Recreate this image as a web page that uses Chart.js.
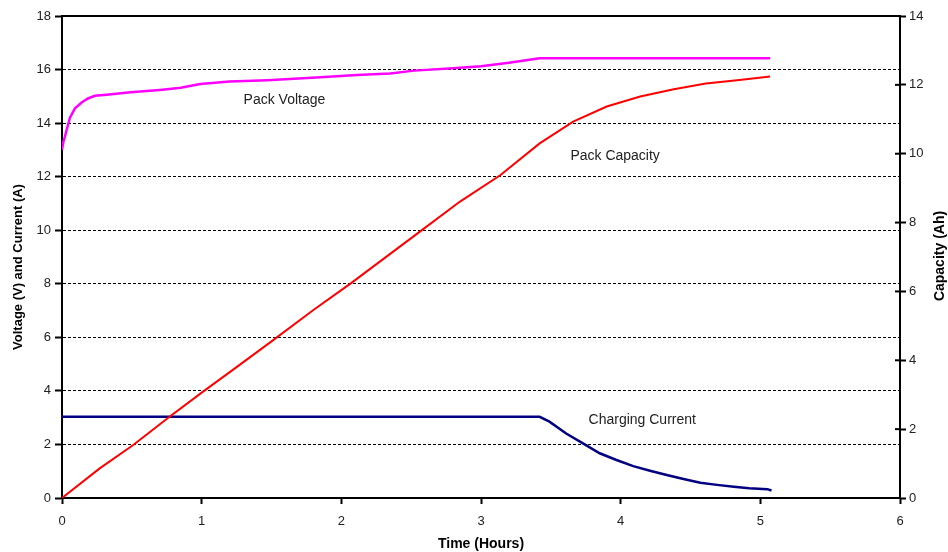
<!DOCTYPE html>
<html>
<head>
<meta charset="utf-8">
<script src="https://cdn.jsdelivr.net/npm/chart.js@4/dist/chart.umd.min.js"></script>
<style>
  html, body { margin: 0; padding: 0; background: #fff; }
  #wrap { width: 948px; height: 552px; }
</style>
</head>
<body>
<div id="wrap"><canvas id="chart" width="948" height="552"></canvas></div>
<script>
// time in hours
var voltTime = [0, 0.01, 0.021, 0.036, 0.057, 0.093, 0.143, 0.186, 0.236, 0.32, 0.49, 0.70, 0.85, 0.99, 1.2, 1.47, 1.82, 2.11, 2.35, 2.52, 2.80, 3.0, 3.2, 3.42, 4.0, 5.07];
var packVoltage = [13.0, 13.3, 13.5, 13.8, 14.2, 14.55, 14.78, 14.92, 15.02, 15.06, 15.15, 15.24, 15.32, 15.46, 15.55, 15.6, 15.7, 15.8, 15.85, 15.96, 16.05, 16.12, 16.25, 16.42, 16.42, 16.42];

var capTime = [0, 0.27, 0.51, 0.77, 1.01, 1.25, 1.5, 1.8, 2.07, 2.56, 2.85, 3.14, 3.42, 3.66, 3.9, 4.14, 4.38, 4.61, 4.85, 5.07];
var packCapacity = [0, 0.86, 1.54, 2.36, 3.09, 3.8, 4.55, 5.46, 6.24, 7.73, 8.61, 9.38, 10.3, 10.93, 11.37, 11.66, 11.87, 12.04, 12.14, 12.24];

var currTime = [0, 3.42, 3.49, 3.61, 3.73, 3.85, 3.97, 4.09, 4.21, 4.33, 4.45, 4.57, 4.69, 4.81, 4.92, 5.05, 5.08];
var chargeCurrent = [3.03, 3.03, 2.85, 2.41, 2.04, 1.67, 1.42, 1.19, 1.02, 0.86, 0.71, 0.57, 0.49, 0.42, 0.36, 0.33, 0.28];

var xTicks = [0, 1, 2, 3, 4, 5, 6];

function pts(xs, ys) {
    return xs.map(function(x, i) { return {x: x, y: ys[i]}; });
}

var tickFont = {family: 'Arial, "Liberation Sans", sans-serif', size: 13};

var extras = {
    id: 'extras',
    afterDraw: function(chart) {
        var ctx = chart.ctx;
        var a = chart.chartArea;
        var xs = chart.scales.x, ys = chart.scales.y, y2 = chart.scales.y2;
        ctx.save();
        // top border
        ctx.strokeStyle = '#000';
        ctx.lineWidth = 2;
        ctx.beginPath();
        ctx.moveTo(a.left - 1, a.top);
        ctx.lineTo(a.right + 1, a.top);
        ctx.stroke();
        // inner half of the right axis ticks
        y2.ticks.forEach(function(t) {
            var py = y2.getPixelForValue(t.value);
            ctx.beginPath();
            ctx.moveTo(a.right - 5, py);
            ctx.lineTo(a.right, py);
            ctx.stroke();
        });
        // series labels
        ctx.fillStyle = '#222';
        ctx.font = '14px Arial, "Liberation Sans", sans-serif';
        ctx.textBaseline = 'middle';
        ctx.textAlign = 'left';
        ctx.fillText('Pack Voltage', xs.getPixelForValue(1.3), ys.getPixelForValue(14.87));
        ctx.fillText('Pack Capacity', xs.getPixelForValue(3.64), ys.getPixelForValue(12.77));
        ctx.fillText('Charging Current', xs.getPixelForValue(3.77), ys.getPixelForValue(2.91));
        // axis titles
        ctx.fillStyle = '#000';
        ctx.textAlign = 'center';
        ctx.font = 'bold 14px Arial, "Liberation Sans", sans-serif';
        ctx.fillText('Time (Hours)', (a.left + a.right) / 2, 544);
        ctx.save();
        ctx.font = 'bold 13px Arial, "Liberation Sans", sans-serif';
        ctx.translate(18, 267);
        ctx.rotate(-Math.PI / 2);
        ctx.fillText('Voltage (V) and Current (A)', 0, 0);
        ctx.restore();
        ctx.save();
        ctx.font = 'bold 14px Arial, "Liberation Sans", sans-serif';
        ctx.translate(940, 256);
        ctx.rotate(-Math.PI / 2);
        ctx.fillText('Capacity (Ah)', 0, 0);
        ctx.restore();
        ctx.restore();
    }
};

const ctx = document.getElementById('chart').getContext('2d');
const myChart = new Chart(ctx, {
    type: 'line',
    data: {
        datasets: [{
            label: 'Pack Voltage',
            data: pts(voltTime, packVoltage),
            borderColor: '#FF00FF',
            borderWidth: 2.5,
            yAxisID: 'y'
        },
        {
            label: 'Pack Capacity',
            data: pts(capTime, packCapacity),
            borderColor: '#FF0000',
            borderWidth: 2,
            yAxisID: 'y2'
        },
        {
            label: 'Charging Current',
            data: pts(currTime, chargeCurrent),
            borderColor: '#000080',
            borderWidth: 2.5,
            yAxisID: 'y'
        }]
    },
    options: {
        responsive: false,
        animation: false,
        layout: { padding: { top: 16, left: 0, right: 0, bottom: 0 } },
        elements: {
            line: { tension: 0, fill: false },
            point: { radius: 0, hoverRadius: 0 }
        },
        plugins: {
            legend: { display: false },
            tooltip: { enabled: false }
        },
        scales: {
            x: {
                type: 'linear',
                min: 0, max: 6,
                afterFit: function(s) { s.height = 54; },
                afterBuildTicks: function(s) { s.ticks = xTicks.map(function(v) { return {value: v}; }); },
                grid: { drawOnChartArea: false, tickLength: 6, tickColor: '#000', tickWidth: 2 },
                border: { color: '#000', width: 2 },
                ticks: { color: '#222', font: tickFont, padding: 10, maxRotation: 0 }
            },
            y: {
                min: 0, max: 18,
                afterFit: function(s) { s.width = 62; },
                ticks: { stepSize: 2, color: '#222', font: tickFont, padding: 4 },
                grid: {
                    color: function(c) { return (c.tick && (c.tick.value === 0 || c.tick.value === 18)) ? 'rgba(0,0,0,0)' : '#000'; },
                    lineWidth: 1,
                    tickLength: 7,
                    tickColor: '#000',
                    tickWidth: 2
                },
                border: { color: '#000', width: 2, dash: [3, 2] }
            },
            y2: {
                position: 'right',
                min: 0, max: 14,
                afterFit: function(s) { s.width = 48; },
                ticks: { stepSize: 2, color: '#222', font: tickFont, padding: 3 },
                grid: { drawOnChartArea: false, tickLength: 6, tickColor: '#000', tickWidth: 2 },
                border: { color: '#000', width: 2 }
            }
        }
    },
    plugins: [extras]
});
</script>
</body>
</html>
